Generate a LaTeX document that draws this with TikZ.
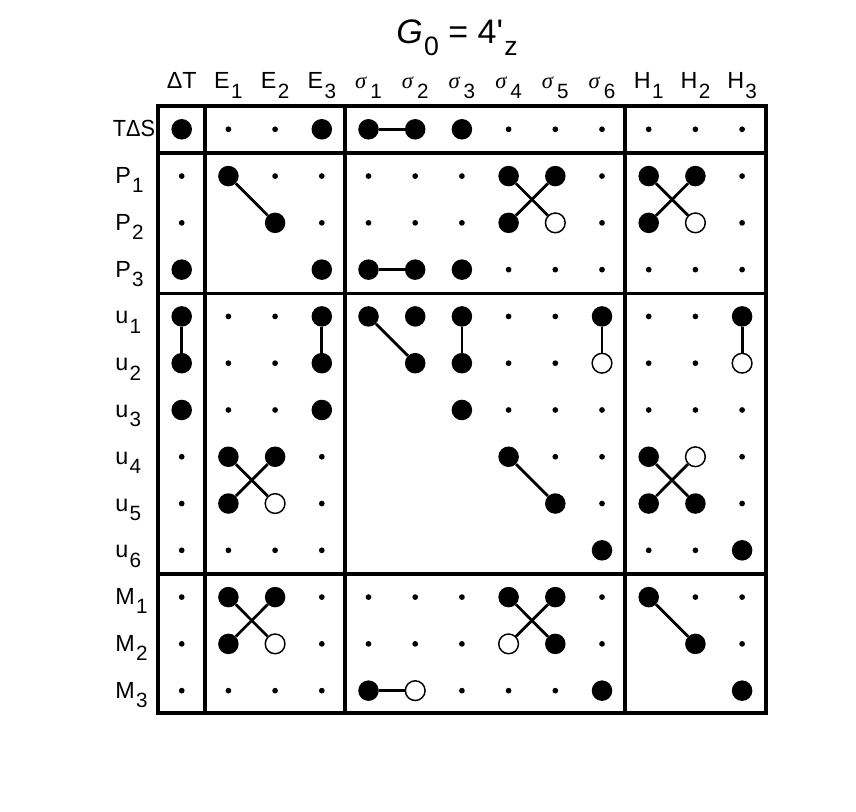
\documentclass[tikz,border=0pt]{standalone}
\usepackage{fontspec}
\setmainfont{Liberation Sans}
\newfontfamily\titlefont{Liberation Sans}
\newfontfamily\greekfont{Liberation Serif}
\newcommand{\lsub}[1]{\hspace{1pt}\raisebox{-7pt}{\fontsize{15.5}{16}\selectfont #1}}
\newcommand{\sig}[1]{{\greekfont\itshape\fontsize{17}{18}\selectfont σ}\hspace{2pt}\lsub{#1}}

\begin{document}
\begin{tikzpicture}[x=0.75pt,y=0.75pt,yscale=-1,xscale=1,
  dotbig/.style={circle,inner sep=0pt,minimum size=15.4pt,fill=black},
  dotopen/.style={circle,inner sep=0pt,minimum size=14.8pt,draw=black,line width=1.1pt,fill=white},
  dotsmall/.style={circle,inner sep=0pt,minimum size=4.3pt,fill=black},
  link/.style={line width=2.1pt},
  frame/.style={line width=2.6pt},
  lbl/.style={inner sep=0pt,font=\fontsize{17.5}{19}\selectfont}]
\useasboundingbox (0,0) rectangle (856,812);

% Text Node
\node [anchor=base,inner sep=0pt,font=\titlefont\fontsize{25.5}{28}\selectfont] (title) at (457,44) {\textit{G}\hspace{1pt}\raisebox{-8.5pt}{\fontsize{20}{22}\selectfont 0} = 4'\hspace{1pt}\raisebox{-8.5pt}{\fontsize{20}{22}\selectfont z}};

%Column labels
\foreach \txt [count=\c from 0] in {ΔT,E\lsub{1},E\lsub{2},E\lsub{3},\sig{1},\sig{2},\sig{3},\sig{4},\sig{5},\sig{6},H\lsub{1},H\lsub{2},H\lsub{3}}
  \node [lbl,anchor=base] (col-\c) at ({181.7+46.7*\c},89) {\txt};

%Row labels
\node [lbl,anchor=base west] (row-0) at (112.5,136.8) {\scalebox{0.93}[1]{TΔS}};
\foreach \txt [count=\r from 1] in {P\lsub{1},P\lsub{2},P\lsub{3},u\lsub{1},u\lsub{2},u\lsub{3},u\lsub{4},u\lsub{5},u\lsub{6},M\lsub{1},M\lsub{2},M\lsub{3}}
  \node [lbl,anchor=base west] (row-\r) at (115,{136.8+46.78*\r}) {\txt};

%Frame
\draw [frame] (158,106) rectangle (766,713);
\draw [frame] (205,106) -- (205,713) (345,106) -- (345,713) (625,106) -- (625,713);
\draw [frame] (158,153) -- (766,153) (158,293.5) -- (766,293.5) (158,574) -- (766,574);

%Dots, one row of the table per line, - for an empty cell
\def\nocell{-}
\foreach \rowlist [count=\r from 0] in {
  {dotbig,dotsmall,dotsmall,dotbig,dotbig,dotbig,dotbig,dotsmall,dotsmall,dotsmall,dotsmall,dotsmall,dotsmall},
  {dotsmall,dotbig,dotsmall,dotsmall,dotsmall,dotsmall,dotsmall,dotbig,dotbig,dotsmall,dotbig,dotbig,dotsmall},
  {dotsmall,-,dotbig,dotsmall,dotsmall,dotsmall,dotsmall,dotbig,dotopen,dotsmall,dotbig,dotopen,dotsmall},
  {dotbig,-,-,dotbig,dotbig,dotbig,dotbig,dotsmall,dotsmall,dotsmall,dotsmall,dotsmall,dotsmall},
  {dotbig,dotsmall,dotsmall,dotbig,dotbig,dotbig,dotbig,dotsmall,dotsmall,dotbig,dotsmall,dotsmall,dotbig},
  {dotbig,dotsmall,dotsmall,dotbig,-,dotbig,dotbig,dotsmall,dotsmall,dotopen,dotsmall,dotsmall,dotopen},
  {dotbig,dotsmall,dotsmall,dotbig,-,-,dotbig,dotsmall,dotsmall,dotsmall,dotsmall,dotsmall,dotsmall},
  {dotsmall,dotbig,dotbig,dotsmall,-,-,-,dotbig,dotsmall,dotsmall,dotbig,dotopen,dotsmall},
  {dotsmall,dotbig,dotopen,dotsmall,-,-,-,-,dotbig,dotsmall,dotbig,dotbig,dotsmall},
  {dotsmall,dotsmall,dotsmall,dotsmall,-,-,-,-,-,dotbig,dotsmall,dotsmall,dotbig},
  {dotsmall,dotbig,dotbig,dotsmall,dotsmall,dotsmall,dotsmall,dotbig,dotbig,dotsmall,dotbig,dotsmall,dotsmall},
  {dotsmall,dotbig,dotopen,dotsmall,dotsmall,dotsmall,dotsmall,dotopen,dotbig,dotsmall,-,dotbig,dotsmall},
  {dotsmall,dotsmall,dotsmall,dotsmall,dotbig,dotopen,dotsmall,dotsmall,dotsmall,dotbig,-,-,dotbig}}
  \foreach \t [count=\c from 0] in \rowlist {
    \ifx\t\nocell\else
      \node [\t] (dot-\c-\r) at ({181.7+46.7*\c},{129.3+46.78*\r}) {};
    \fi
  };

%Straight Lines
\foreach \a/\b in {dot-4-0/dot-5-0,
  dot-1-1/dot-2-2,dot-7-1/dot-8-2,dot-8-1/dot-7-2,dot-10-1/dot-11-2,dot-11-1/dot-10-2,dot-4-3/dot-5-3,
  dot-0-4/dot-0-5,dot-3-4/dot-3-5,dot-4-4/dot-5-5,dot-6-4/dot-6-5,dot-9-4/dot-9-5,dot-12-4/dot-12-5,
  dot-1-7/dot-2-8,dot-2-7/dot-1-8,dot-7-7/dot-8-8,dot-10-7/dot-11-8,dot-11-7/dot-10-8,
  dot-1-10/dot-2-11,dot-2-10/dot-1-11,dot-7-10/dot-8-11,dot-8-10/dot-7-11,dot-10-10/dot-11-11,dot-4-12/dot-5-12}
  \draw [link] (\a) -- (\b);

\end{tikzpicture}
\end{document}
